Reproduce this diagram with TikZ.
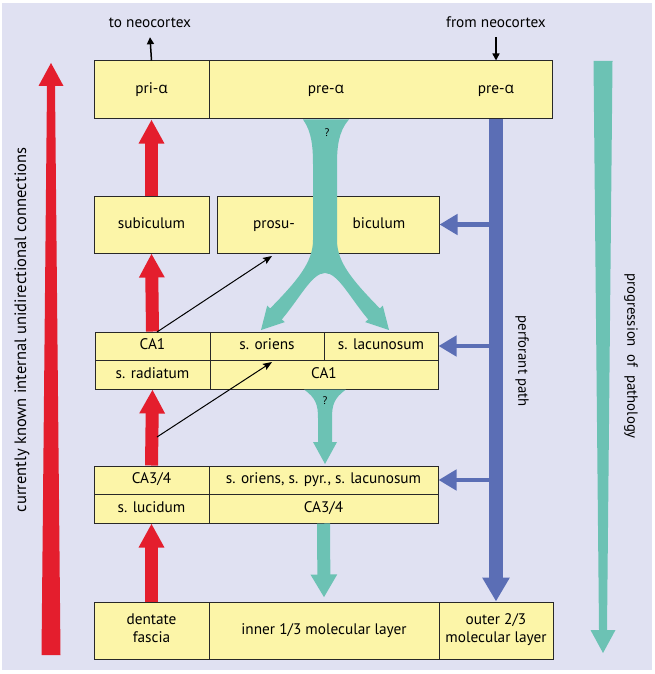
\documentclass[tikz,border=0pt]{standalone}
\usepackage{fontspec}
\setmainfont{PT Sans}
\newfontfamily\grk{Open Sans}
\usetikzlibrary{arrows.meta}
\definecolor{bg}{RGB}{224,225,242}
\definecolor{boxfill}{RGB}{252,245,168}
\definecolor{myred}{RGB}{228,30,45}
\definecolor{myteal}{RGB}{108,194,180}
\definecolor{myblue}{RGB}{91,110,181}
\definecolor{edge}{RGB}{40,40,40}
\newcommand{\alp}{{\grk α}}
\begin{document}
\begin{tikzpicture}[x=1pt,y=-1pt,
  txt/.style={font=\fontsize{15.3}{18}\selectfont, inner sep=0pt, align=center,
    execute at begin node=\strut, execute at end node=\strut},
  cell/.style={txt, draw=edge, fill=boxfill, line width=1pt},
  rottxt/.style={font=\fontsize{14.8}{18}\selectfont, inner sep=0pt},
  redarrow/.style={draw=myred, line width=13pt, -{Triangle[length=24pt,width=24pt]}},
  tealarrow/.style={draw=myteal, line width=13pt, -{Triangle[length=23pt,width=25pt]}},
  bluebar/.style={draw=myblue, line width=13.5pt, -{Triangle[length=24pt,width=26pt]}},
  bluebranch/.style={draw=myblue, line width=4.5pt, -{Triangle[length=18pt,width=20pt]}},
  thinarrow/.style={draw=black, line width=1pt, -{Stealth[length=9pt,width=7pt,inset=1.5pt]}},
  blackarrow/.style={draw=black, line width=1.5pt, -{Triangle[length=7pt,width=7pt]}}
]
\useasboundingbox (0,0) rectangle (655,674);
\fill[bg] (2,3) rectangle (652,670);

% top row
\node[cell, minimum width=115pt, minimum height=58pt] (pri) at (151.5,90) {pri-\alp};
\node[cell, minimum width=343pt, minimum height=58pt] (preA) at (380.5,90) {};
\node[txt] (preA1) at (326,90) {pre-\alp};
\node[txt] (preA2) at (496,90) {pre-\alp};

% row 2
\node[cell, minimum width=115pt, minimum height=57pt] (sub) at (151.5,224.5) {subiculum};
\node[cell, minimum width=222pt, minimum height=57pt] (pros) at (328,224.5) {};
\node[txt] (pros1) at (274,224.5) {prosu-};
\node[txt] (pros2) at (379,224.5) {biculum};

% row 3 (CA1)
\node[cell, minimum width=115pt, minimum height=28pt] (ca1a) at (152.5,346) {CA1};
\node[cell, minimum width=114pt, minimum height=28pt] (orien) at (267,346) {s. oriens};
\node[cell, minimum width=114pt, minimum height=28pt] (lacun) at (381,346) {s. lacunosum};
\node[cell, minimum width=115pt, minimum height=29pt] (rad) at (152.5,374.5) {s. radiatum};
\node[cell, minimum width=228pt, minimum height=29pt] (ca1b) at (324,374.5) {CA1};

% row 4 (CA3/4)
\node[cell, minimum width=115pt, minimum height=28pt] (ca3a) at (151.5,480) {CA3/4};
\node[cell, minimum width=229pt, minimum height=28pt] (orpyr) at (323.5,480) {s. oriens, s. pyr., s. lacunosum};
\node[cell, minimum width=115pt, minimum height=29pt] (luc) at (151.5,508.5) {s. lucidum};
\node[cell, minimum width=229pt, minimum height=29pt] (ca3b) at (323.5,508.5) {CA3/4};

% bottom row
\node[cell, minimum width=115pt, minimum height=57pt] (dent) at (151.5,630.5) {dentate\\fascia};
\node[cell, minimum width=230pt, minimum height=57pt] (inner) at (324,630.5) {inner 1/3 molecular layer};
\node[cell, minimum width=114pt, minimum height=57pt] (outer) at (496,630.5) {outer 2/3\\molecular layer};

% top labels
\node[txt] (tolab) at (150,24) {to neocortex};
\node[txt] (fromlab) at (496,24) {from neocortex};
\draw[blackarrow] (pri.north) -- ([yshift=-4pt]tolab.south);
\draw[blackarrow] ([yshift=-4pt]fromlab.south) -- (fromlab.south |- preA.north);

% side arrows
\fill[myred] (41.5,655) -- (60.5,655) -- (55,86) -- (63.5,86) -- (51,63) -- (38.5,86) -- (47,86) -- cycle;
\fill[myteal] (593.5,61) -- (612.5,61) -- (607,630) -- (615.5,630) -- (603,653) -- (590.5,630) -- (599,630) -- cycle;
\node[rottxt, font=\fontsize{16.5}{18}\selectfont, rotate=90] (leftlab) at (22,330) {currently known internal unidirectional connections};
\node[rottxt, rotate=-90] (rightlab) at (631,356) {progression\ \ of\ \ pathology};

% red connections
\draw[redarrow] (sub.north) -- (pri.south);
\draw[redarrow] (ca1a.north) -- (sub.south);
\draw[redarrow] (ca3a.north) -- (rad.south);
\draw[redarrow] (dent.north) -- (luc.south);

% thin black connections
\coordinate (k1) at (157,332);
\coordinate (k1e) at (272,256);
\coordinate (k2) at (157,437);
\coordinate (k2e) at (272,362);
\draw[thinarrow] (k1) -- (k1e);
\draw[thinarrow] (k2) -- (k2e);

% teal fork
\fill[myteal] (303,119.5) -- (349,119.5)
  .. controls (338,132) and (337,148) .. (337,165) -- (337,240)
  .. controls (337,262) and (352,280) .. (379.8,308.4)
  -- (382.8,305.7) -- (389,330) -- (365.2,322.1) -- (368.2,319.4)
  .. controls (350,298) and (338,273) .. (325,273)
  .. controls (312,273) and (300,298) .. (281.8,319.4)
  -- (284.8,322.1) -- (261,330) -- (267.2,305.7) -- (270.2,308.4)
  .. controls (298,280) and (313,262) .. (313,240) -- (313,165)
  .. controls (313,148) and (312,132) .. (303,119.5) -- cycle;
\node[font=\fontsize{11}{13}\selectfont, inner sep=0pt] (q1) at (327,133) {?};

% teal CA1 -> CA3
\fill[myteal] (304,389.5) -- (346,389.5)
  .. controls (334,398) and (332,405) .. (332,418) -- (332,442)
  -- (337,442) -- (325,464) -- (313,442) -- (318,442) -- (318,418)
  .. controls (318,405) and (316,398) .. (304,389.5) -- cycle;
\node[font=\fontsize{11}{13}\selectfont, inner sep=0pt] (q2) at (325,401) {?};

% teal CA3 -> inner
\draw[tealarrow] (ca3b.south) -- ([yshift=4pt]inner.north);

% perforant path
\draw[bluebar] (preA.south -| outer.north) -- (outer.north);
\draw[bluebranch] (pros.east -| outer.north) -- (pros.east);
\draw[bluebranch] (lacun.east -| outer.north) -- (lacun.east);
\draw[bluebranch] (orpyr.east -| outer.north) -- (orpyr.east);
\node[rottxt, rotate=-90] (perf) at (522,361) {perforant path};
\end{tikzpicture}
\end{document}
